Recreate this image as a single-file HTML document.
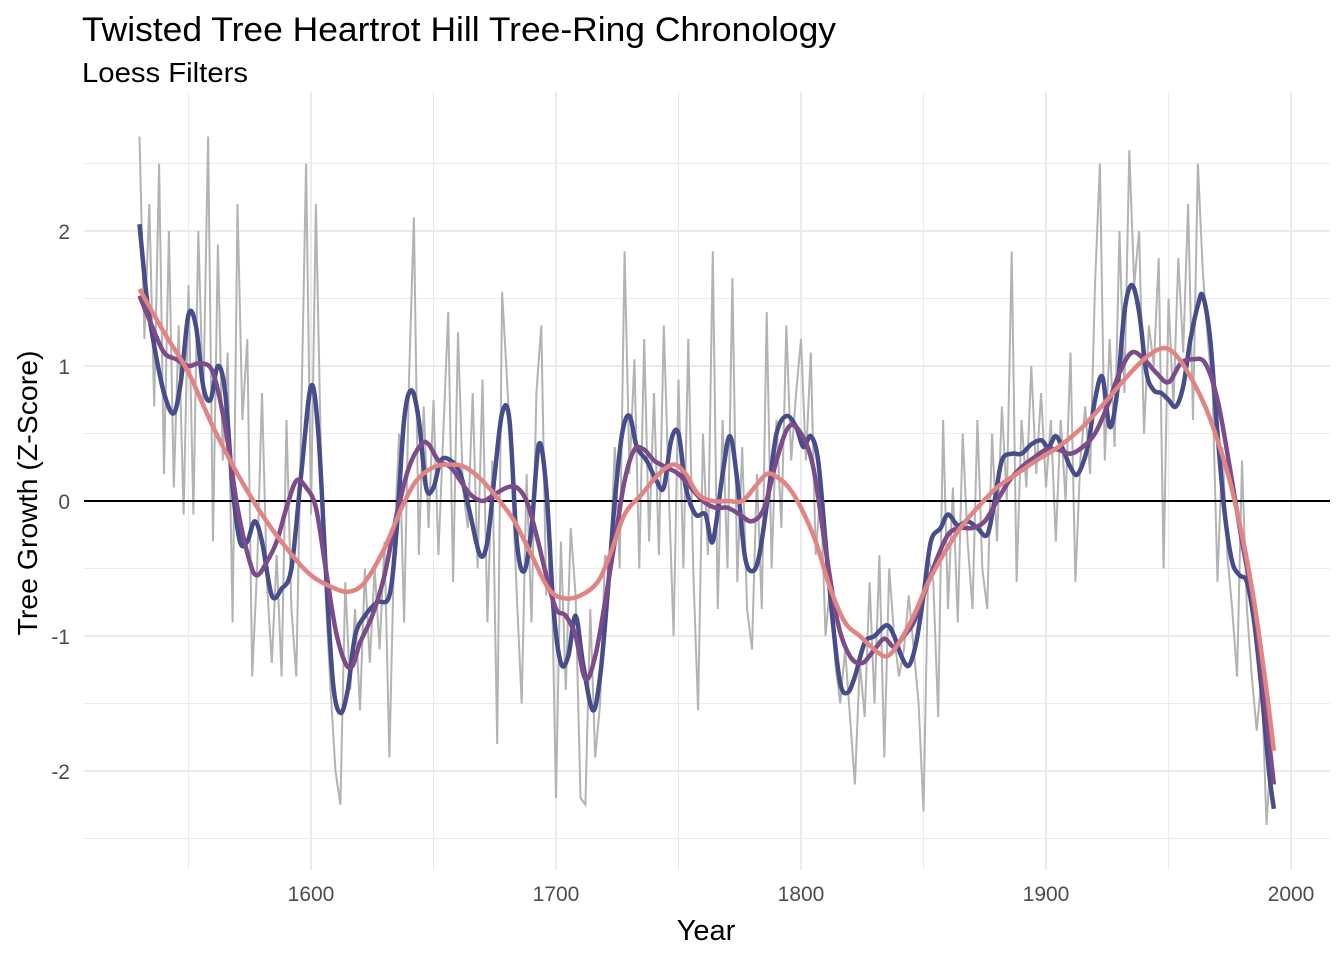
<!DOCTYPE html>
<html><head><meta charset="utf-8"><style>
body{margin:0;background:#fff;}
svg{display:block;font-family:"Liberation Sans",Arial,sans-serif;}
</style></head><body>
<svg id="chart" width="1344" height="960">
<text x="82" y="41" font-size="34" fill="#000" textLength="754" lengthAdjust="spacingAndGlyphs">Twisted Tree Heartrot Hill Tree-Ring Chronology</text>
<text x="82" y="82" font-size="28" fill="#000" textLength="166" lengthAdjust="spacingAndGlyphs">Loess Filters</text>
<g id="grid"></g>
<g id="marks"></g>
<g id="axes"></g>
<text x="706" y="940" font-size="29" text-anchor="middle" fill="#000">Year</text>
<text transform="translate(37,493) rotate(-90)" font-size="28" text-anchor="middle" fill="#000" textLength="285" lengthAdjust="spacingAndGlyphs">Tree Growth (Z-Score)</text>
</svg>
<script>
const xTicks=[1600,1700,1800,1900,2000];
const xMinor=[1550,1650,1750,1850,1950];
const yTicks=[-2,-1,0,1,2];
const yMinor=[-2.5,-1.5,-0.5,0.5,1.5,2.5];
const rawYears=[];for(let y=1530;y<=1992;y+=2)rawYears.push(y);
const rawVals=[2.7,1.2,2.2,0.7,2.5,0.2,2.0,0.1,1.3,-0.1,1.6,-0.1,2.0,0.7,2.7,-0.3,1.9,0.3,1.1,-0.9,2.2,0.6,1.2,-1.3,-0.5,0.8,-0.6,-1.2,-0.4,-1.3,0.6,-0.8,-1.3,0.6,2.5,-0.1,2.2,0.4,-0.7,-1.4,-2.0,-2.25,-0.6,-1.4,-0.8,-1.55,-0.5,-1.2,-0.5,-1.1,-0.3,-1.9,-0.3,0.5,-0.9,0.9,2.1,-0.4,0.7,-0.2,0.75,-0.4,0.5,1.4,-0.6,1.25,0.1,-0.2,0.8,-0.5,0.9,-0.9,0.3,-1.8,1.55,0.9,0.2,-0.7,-1.5,0.2,-0.9,0.8,1.3,-0.7,-0.3,-2.2,-0.3,-1.4,-0.2,-0.7,-2.2,-2.25,-0.8,-1.9,-1.5,-0.4,-0.5,0.4,-0.5,1.85,0.2,1.05,-0.5,1.2,-0.3,0.8,-0.4,1.3,0.1,-1.0,0.9,-0.5,1.2,-0.5,-1.55,0.5,-0.4,1.85,-0.8,0.6,-0.5,1.65,-0.6,0.4,-0.8,-1.1,0.2,-0.8,1.4,-0.5,0.6,-0.2,1.3,0.3,0.8,1.2,0.3,1.1,-0.4,0.1,-1.0,-0.6,-1.2,-1.5,-1.1,-1.6,-2.1,-1.2,-1.6,-0.6,-1.5,-0.4,-1.9,-0.5,-1.0,-1.3,-1.1,-0.7,-1.1,-1.5,-2.3,-0.4,-0.6,-1.6,0.6,-0.8,0.1,-0.9,0.5,-0.3,-0.8,0.6,-0.5,-0.8,0.5,-0.3,0.7,0.0,1.85,-0.6,0.6,0.1,1.0,0.2,0.8,0.1,0.6,-0.3,0.6,0.0,1.1,-0.6,0.3,0.7,0.2,1.6,2.5,0.3,1.2,0.4,2.0,0.8,2.6,1.6,2.0,0.5,1.3,1.0,1.8,-0.5,1.5,0.7,1.8,1.1,2.2,0.6,2.5,1.7,1.2,0.8,-0.6,0.4,-0.4,-0.8,-1.3,0.3,-0.8,-1.3,-1.7,-1.3,-2.4,-1.8];
const blueYears=[1530,1533,1536,1540,1544,1547,1550,1553,1556,1559,1562,1565,1568,1571,1574,1577,1580,1584,1588,1592,1596,1600,1603,1606,1609,1612,1615,1618,1622,1627,1632,1635,1638,1641,1644,1647,1650,1653,1657,1661,1665,1669,1672,1675,1678,1681,1684,1687,1690,1693,1696,1699,1702,1705,1708,1711,1715,1718,1721,1724,1727,1730,1733,1737,1741,1744,1747,1750,1753,1757,1761,1764,1768,1771,1774,1777,1780,1783,1787,1790,1794,1798,1801,1804,1807,1810,1813,1816,1819,1822,1826,1830,1835,1838,1841,1844,1847,1850,1853,1857,1860,1864,1868,1872,1876,1879,1882,1886,1890,1894,1898,1901,1904,1907,1910,1913,1917,1920,1923,1926,1929,1932,1935,1938,1941,1944,1947,1950,1953,1956,1959,1962,1964,1967,1970,1973,1976,1979,1982,1985,1988,1991,1993];
const blueVals=[2.05,1.5,1.15,0.8,0.65,0.9,1.38,1.3,0.85,0.75,1.0,0.8,0.1,-0.3,-0.3,-0.15,-0.3,-0.7,-0.65,-0.5,0.2,0.85,0.5,-0.5,-1.35,-1.57,-1.4,-1.0,-0.85,-0.75,-0.7,-0.2,0.6,0.82,0.6,0.1,0.1,0.3,0.3,0.2,-0.1,-0.4,-0.3,0.2,0.65,0.6,-0.3,-0.52,-0.2,0.42,0.1,-0.8,-1.2,-1.15,-0.85,-1.2,-1.55,-1.3,-0.7,0.0,0.5,0.63,0.4,0.3,0.15,0.1,0.45,0.5,0.1,-0.1,-0.1,-0.3,0.2,0.48,0.15,-0.4,-0.52,-0.4,0.1,0.5,0.63,0.55,0.4,0.48,0.3,-0.3,-0.9,-1.35,-1.42,-1.3,-1.05,-1.0,-0.92,-1.0,-1.15,-1.22,-1.05,-0.7,-0.3,-0.2,-0.1,-0.18,-0.15,-0.2,-0.25,0.0,0.3,0.35,0.35,0.42,0.45,0.4,0.48,0.38,0.25,0.2,0.4,0.75,0.92,0.55,0.8,1.4,1.6,1.4,0.95,0.82,0.8,0.75,0.7,0.85,1.2,1.45,1.52,1.2,0.5,-0.1,-0.45,-0.55,-0.6,-0.9,-1.4,-2.0,-2.28];
const purpleYears=[1530,1535,1540,1545,1550,1555,1560,1565,1570,1575,1578,1582,1586,1590,1594,1598,1602,1606,1610,1614,1617,1620,1625,1630,1635,1640,1645,1648,1652,1657,1661,1665,1670,1675,1680,1684,1688,1692,1696,1700,1704,1708,1712,1716,1720,1724,1728,1732,1736,1740,1745,1750,1755,1760,1765,1770,1775,1780,1785,1790,1795,1800,1805,1810,1815,1820,1825,1830,1834,1838,1842,1846,1850,1855,1860,1865,1870,1875,1880,1885,1890,1895,1900,1905,1910,1915,1920,1925,1930,1935,1940,1945,1950,1955,1960,1965,1970,1975,1980,1985,1990,1993];
const purpleVals=[1.52,1.3,1.1,1.05,1.0,1.02,0.95,0.55,-0.05,-0.45,-0.55,-0.45,-0.3,-0.05,0.15,0.1,-0.05,-0.5,-0.95,-1.2,-1.22,-1.05,-0.85,-0.55,-0.1,0.25,0.42,0.42,0.3,0.25,0.15,0.05,0.0,0.05,0.1,0.1,0.0,-0.25,-0.55,-0.8,-0.85,-1.0,-1.32,-1.15,-0.75,-0.3,0.15,0.38,0.38,0.3,0.25,0.2,0.1,0.0,-0.05,-0.05,-0.1,-0.15,-0.05,0.3,0.55,0.5,0.25,-0.35,-0.9,-1.15,-1.2,-1.1,-1.02,-1.08,-1.0,-0.9,-0.7,-0.45,-0.25,-0.2,-0.2,-0.15,0.0,0.15,0.25,0.32,0.38,0.38,0.35,0.4,0.5,0.7,0.95,1.1,1.05,0.95,0.88,1.02,1.05,1.02,0.75,0.25,-0.3,-0.8,-1.6,-2.1];
const pinkYears=[1530,1540,1550,1560,1570,1580,1590,1600,1610,1616,1622,1630,1637,1643,1650,1657,1663,1670,1677,1683,1690,1697,1703,1710,1717,1722,1728,1735,1742,1748,1753,1758,1764,1770,1776,1781,1786,1790,1795,1800,1806,1812,1818,1824,1830,1835,1840,1846,1852,1858,1865,1872,1880,1888,1896,1905,1915,1925,1932,1940,1947,1952,1958,1965,1970,1975,1980,1985,1990,1993];
const pinkVals=[1.57,1.25,0.95,0.55,0.2,-0.1,-0.35,-0.55,-0.65,-0.67,-0.6,-0.35,-0.05,0.15,0.25,0.27,0.25,0.15,0.0,-0.15,-0.4,-0.65,-0.72,-0.7,-0.6,-0.4,-0.1,0.05,0.2,0.27,0.2,0.05,0.0,0.0,0.0,0.1,0.2,0.18,0.1,-0.05,-0.3,-0.65,-0.9,-1.0,-1.1,-1.15,-1.05,-0.85,-0.6,-0.4,-0.2,-0.05,0.1,0.2,0.3,0.4,0.55,0.75,0.9,1.05,1.13,1.1,0.95,0.7,0.45,0.15,-0.25,-0.75,-1.4,-1.85];

const X=y=>311+(y-1600)*2.45;
const Y=v=>501-v*135;
const NS='http://www.w3.org/2000/svg';
function mk(tag,attrs,parent){const e=document.createElementNS(NS,tag);for(const k in attrs)e.setAttribute(k,attrs[k]);parent.appendChild(e);return e;}
const grid=document.getElementById('grid'),marks=document.getElementById('marks'),axes=document.getElementById('axes');
xMinor.forEach(t=>{const l=mk('line',{x1:X(t),x2:X(t),y1:92,y2:870,stroke:'#ebebeb','stroke-width':1},grid);

});
yMinor.forEach(t=>{const l=mk('line',{x1:84,x2:1330,y1:Y(t),y2:Y(t),stroke:'#ebebeb','stroke-width':1},grid);

});
xTicks.forEach(t=>{const l=mk('line',{x1:X(t),x2:X(t),y1:92,y2:870,stroke:'#ebebeb','stroke-width':2},grid);


const tx=mk('text',{x:X(t),y:901,'font-size':21,'text-anchor':'middle',fill:'#4d4d4d'},axes);tx.textContent=t;

});
yTicks.forEach(t=>{const l=mk('line',{x1:84,x2:1330,y1:Y(t),y2:Y(t),stroke:'#ebebeb','stroke-width':2},grid);


const tx=mk('text',{x:70,y:Y(t)+8,'font-size':21,'text-anchor':'end',fill:'#4d4d4d'},axes);tx.textContent=t;

});
const raw=mk('polyline',{points:rawYears.map((y,i)=>X(y)+','+Y(rawVals[i])).join(' '),fill:'none',stroke:'#b3b3b3','stroke-width':2},marks);


const zero=mk('line',{x1:84,x2:1330,y1:Y(0),y2:Y(0),stroke:'#000','stroke-width':2},marks);


function smooth(xs,vs){const p=xs.map((x,i)=>[X(x),Y(vs[i])]);let d='M'+p[0][0]+','+p[0][1];
for(let i=0;i<p.length-1;i++){const p0=p[Math.max(0,i-1)],p1=p[i],p2=p[i+1],p3=p[Math.min(p.length-1,i+2)];
const c1=[p1[0]+(p2[0]-p0[0])/6,p1[1]+(p2[1]-p0[1])/6],c2=[p2[0]-(p3[0]-p1[0])/6,p2[1]-(p3[1]-p1[1])/6];
d+=' C'+c1+' '+c2+' '+p2;}return d;}
const b=mk('path',{d:smooth(blueYears,blueVals),fill:'none',stroke:'#474c8a','stroke-width':4.5},marks);


const pu=mk('path',{d:smooth(purpleYears,purpleVals),fill:'none',stroke:'#7b4b8a','stroke-width':4.5},marks);


const pk=mk('path',{d:smooth(pinkYears,pinkVals),fill:'none',stroke:'#e08583','stroke-width':4.5},marks);


</script>
</body></html>
